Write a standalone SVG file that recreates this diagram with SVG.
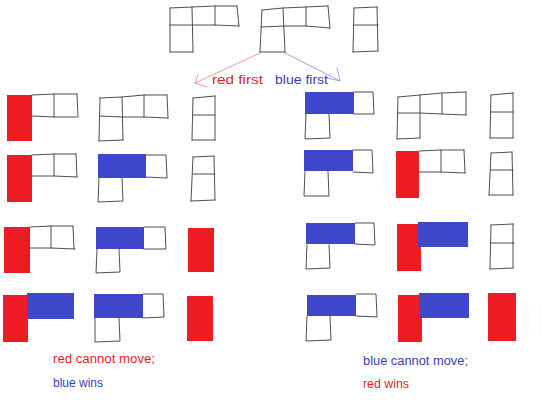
<svg xmlns="http://www.w3.org/2000/svg" width="541" height="410" viewBox="0 0 541 410">
<style>
.g{fill:none;stroke:#3a3a3a;stroke-width:0.9;stroke-linecap:round;stroke-linejoin:round}
.r{fill:#ed1c24}
.b{fill:#3f48cc}
.t{font-family:"Liberation Sans",Arial,sans-serif;font-size:13px}
.tr{fill:#e41e2a}
.tb{fill:#3a40b8}
</style>
<rect width="541" height="410" fill="#ffffff"/>
<g id="connectors">
<path d="M260,53 L195,83 M198,75 L195,83 L207,87" fill="none" stroke="#f08c96" stroke-width="0.9" stroke-linecap="round"/>
<path d="M285,53 L340,81 M337,68 L340,81 L327,78" fill="none" stroke="#9a9ae2" stroke-width="0.9" stroke-linecap="round"/>
</g>
<g id="start">
<path class="g" d="M170,8 L192,7 L215,6 L237,6 M170,25 L192,25 L215,25 L239,26 M170,52 L193,52 M170,8 L170,52 M192,7 L193,52 M215,6 L215,25 M237,6 L239,26"/>
<path class="g" d="M262,10 L283,8 L306,7 L328,6 M261,27 L284,26 L306,26 L330,28 M260,52 L285,52 M262,10 L260,52 M283,8 L285,52 M306,7 L306,26 M328,6 L330,28"/>
<path class="g" d="M354,8 L377,7 M354,25 L378,25 M353,52 L378,51 M354,8 L353,52 M377,7 L378,51"/>
</g>
<g id="label-red-first"><text class="t tr" x="212" y="84" textLength="51" lengthAdjust="spacingAndGlyphs">red first</text></g>
<g id="label-blue-first"><text class="t tb" x="275" y="84" textLength="53" lengthAdjust="spacingAndGlyphs">blue first</text></g>

<g id="left-1">
<rect class="r" x="7" y="95" width="25" height="46"/>
<path class="g" d="M32,95 L54,94 L77,94 M32,116 L54,117 L77,117 M54,94 L54,117 M77,94 L78,117"/>
<path class="g" d="M100,98 L122,97 L144,95 L167,95 M100,116 L122,117 L144,117 L168,118 M99,141 L123,140 M100,98 L99,141 M122,97 L123,140 M144,95 L144,117 M167,95 L168,118"/>
<path class="g" d="M193,98 L215,96 M193,115 L215,115 M192,140 L215,140 M193,98 L192,140 M215,96 L215,140"/>
</g>
<g id="left-2">
<rect class="r" x="7" y="155" width="25" height="47"/>
<path class="g" d="M32,155 L54,154 L76,154 M32,176 L54,176 L77,177 M54,154 L54,176 M76,154 L77,177"/>
<rect class="b" x="98" y="154" width="48" height="24"/>
<path class="g" d="M146,155 L166,155 L167,178 L146,177 M99,178 L98,202 L123,201 L122,178"/>
<path class="g" d="M193,157 L214,156 M193,174 L215,174 M191,201 L215,200 M193,157 L191,201 M214,156 L215,200"/>
</g>
<g id="left-3">
<rect class="r" x="4" y="227" width="26" height="46"/>
<path class="g" d="M30,227 L51,226 L73,226 M30,248 L51,248 L75,249 M51,226 L51,248 M73,226 L74,249"/>
<rect class="b" x="96" y="227" width="48" height="22"/>
<path class="g" d="M144,227 L165,227 L166,249 L144,249 M97,249 L96,273 L120,272 L119,249"/>
<rect class="r" x="188" y="228" width="26" height="44"/>
</g>
<g id="left-4">
<rect class="r" x="3" y="295" width="25" height="47"/>
<rect class="b" x="27" y="293" width="47" height="26"/>
<rect class="b" x="94" y="294" width="49" height="24"/>
<path class="g" d="M143,294 L163,294 L164,317 L143,318 M95,318 L95,342 L120,341 L119,318"/>
<rect class="r" x="187" y="296" width="26" height="45"/>
</g>

<g id="right-1">
<rect class="b" x="305" y="92" width="49" height="22"/>
<path class="g" d="M354,92 L373,92 L374,114 L354,114 M306,114 L305,139 L330,138 L329,114"/>
<path class="g" d="M398,97 L420,95 L442,93 L466,92 M398,113 L420,113 L442,114 L466,115 M397,139 L420,138 M398,97 L397,139 M420,95 L420,138 M442,93 L442,114 M466,92 L466,115"/>
<path class="g" d="M491,95 L513,93 M491,112 L513,112 M490,138 L513,138 M491,95 L490,138 M513,93 L513,138"/>
</g>
<g id="right-2">
<rect class="b" x="304" y="150" width="49" height="21"/>
<path class="g" d="M353,150 L372,150 L373,173 L353,172 M305,171 L304,196 L329,196 L328,171"/>
<rect class="r" x="396" y="151" width="23" height="47"/>
<path class="g" d="M419,151 L441,150 L464,150 M419,172 L441,172 L465,173 M441,150 L441,172 M464,150 L465,173"/>
<path class="g" d="M491,153 L512,152 M491,170 L513,170 M489,195 L513,195 M491,153 L489,195 M512,152 L513,195"/>
</g>
<g id="right-3">
<rect class="b" x="306" y="223" width="49" height="21"/>
<path class="g" d="M355,223 L374,223 L375,245 L355,244 M307,245 L306,269 L330,268 L329,245"/>
<rect class="r" x="397" y="224" width="24" height="47"/>
<rect class="b" x="418" y="222" width="50" height="25"/>
<path class="g" d="M491,225 L513,224 M491,243 L514,243 M490,269 L513,268 M491,225 L490,269 M513,224 L513,268"/>
</g>
<g id="right-4">
<rect class="b" x="307" y="295" width="49" height="21"/>
<path class="g" d="M356,294 L376,294 L377,317 L356,316 M307,316 L306,341 L331,340 L330,316"/>
<rect class="r" x="398" y="295" width="24" height="47"/>
<rect class="b" x="419" y="293" width="50" height="25"/>
<rect class="r" x="488" y="293" width="28" height="48"/>
</g>

<g id="result-left">
<text class="t tr" x="53" y="363" textLength="102" lengthAdjust="spacingAndGlyphs">red cannot move;</text>
<text class="t tb" x="53" y="387" textLength="50" lengthAdjust="spacingAndGlyphs">blue wins</text>
</g>
<g id="result-right">
<text class="t tb" x="363" y="365" textLength="105" lengthAdjust="spacingAndGlyphs">blue cannot move;</text>
<text class="t tr" x="363" y="388" textLength="46" lengthAdjust="spacingAndGlyphs">red wins</text>
</g>
</svg>
